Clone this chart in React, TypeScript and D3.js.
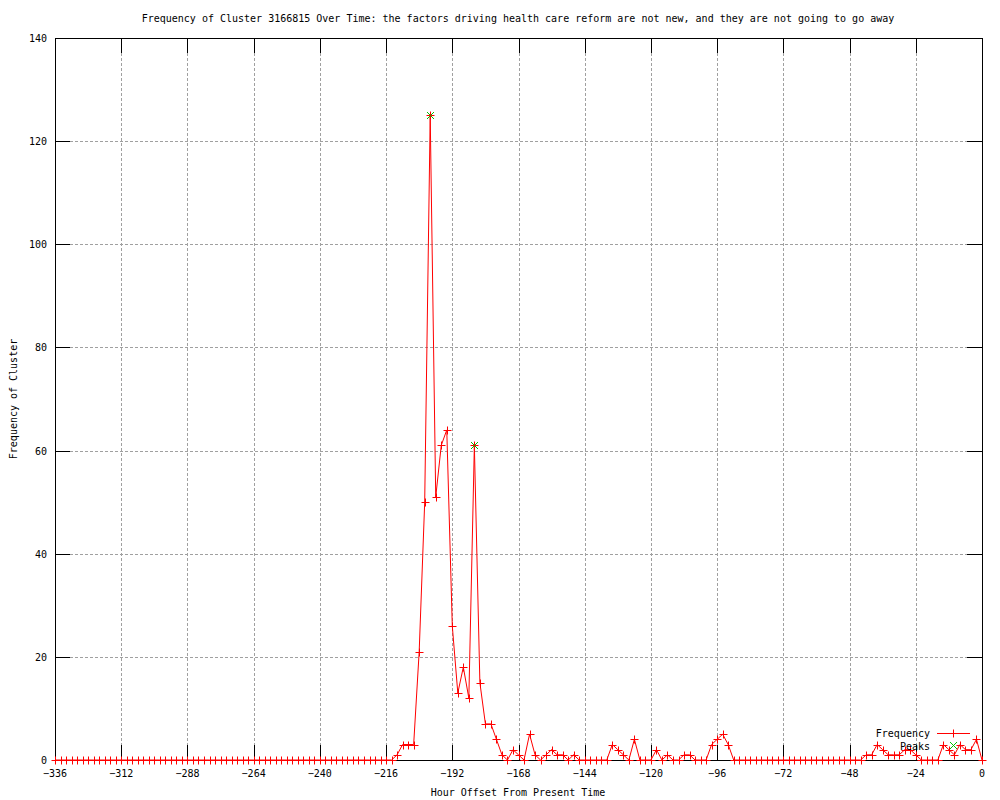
import React, { useEffect, useRef } from 'react';
import * as d3 from 'd3';

const title = 'Frequency of Cluster 3166815 Over Time: the factors driving health care reform are not new, and they are not going to go away';
const xLabel = 'Hour Offset From Present Time';
const yLabel = 'Frequency of Cluster';

// one sample every 2 hours, -336 .. 0
const hours = d3.range(-336, 1, 2);

const frequency = [
    // -336 .. -214
    0, 0, 0, 0, 0, 0, 0, 0, 0, 0, 0, 0, 0, 0, 0, 0, 0, 0, 0, 0, 0, 0, 0, 0, 0, 0, 0, 0, 0, 0, 0,
    0, 0, 0, 0, 0, 0, 0, 0, 0, 0, 0, 0, 0, 0, 0, 0, 0, 0, 0, 0, 0, 0, 0, 0, 0, 0, 0, 0, 0, 0, 0,
    // -212 .. -148
    1, 3, 3, 3, 21, 50, 125, 51, 61, 64, 26, 13, 18, 12, 61, 15, 7, 7, 4, 1, 0, 2, 1, 0, 5, 1, 0, 1, 2, 1, 1, 0, 1,
    // -146 .. -92
    0, 0, 0, 0, 0, 0, 3, 2, 1, 0, 4, 0, 0, 0, 2, 0, 1, 0, 0, 1, 1, 0, 0, 0, 3, 4, 5, 3,
    // -90 .. -44
    0, 0, 0, 0, 0, 0, 0, 0, 0, 0, 0, 0, 0, 0, 0, 0, 0, 0, 0, 0, 0, 0, 0, 0,
    // -42 .. 0
    1, 1, 3, 2, 1, 1, 1, 2, 2, 1, 0, 0, 0, 0, 3, 2, 1, 3, 2, 2, 4, 0
];

const peakHours = [-200, -184];
const peakValues = [125, 61];

const xTicks = [-336, -312, -288, -264, -240, -216, -192, -168, -144, -120, -96, -72, -48, -24, 0];
const yTicks = [0, 20, 40, 60, 80, 100, 120, 140];

const width = 1000;
const height = 800;
const margin = { left: 55, right: 18, top: 38, bottom: 40 };
const font = '"DejaVu Sans Mono", monospace';

export default function App() {
    const svgRef = useRef<SVGSVGElement>(null);

    useEffect(() => {
        const svg = d3.select(svgRef.current);
        svg.selectAll('*').remove();

        const x0 = margin.left, x1 = width - margin.right;
        const y0 = height - margin.bottom, y1 = margin.top;
        const xScale = d3.scaleLinear().domain([-336, 0]).range([x0, x1]);
        const yScale = d3.scaleLinear().domain([0, 140]).range([y0, y1]);
        const px = (v: number) => Math.round(v) + 0.5;

        // grid
        const grid = svg.append('g')
            .attr('stroke', '#a0a0a0')
            .attr('stroke-dasharray', '3,2')
            .attr('shape-rendering', 'crispEdges');
        grid.selectAll('line.gx')
            .data(xTicks.slice(1, -1))
            .enter().append('line')
            .attr('x1', (d) => px(xScale(d))).attr('x2', (d) => px(xScale(d)))
            .attr('y1', y1).attr('y2', y0);
        grid.selectAll('line.gy')
            .data(yTicks.slice(1, -1))
            .enter().append('line')
            .attr('class', 'gy')
            .attr('x1', x0).attr('x2', x1)
            .attr('y1', (d) => px(yScale(d))).attr('y2', (d) => px(yScale(d)));

        // ticks (mirrored, inward)
        const tickLen = 15;
        const ticks = svg.append('g').attr('stroke', 'black').attr('shape-rendering', 'crispEdges');
        xTicks.forEach((d) => {
            const xx = px(xScale(d));
            ticks.append('line').attr('x1', xx).attr('x2', xx).attr('y1', y0).attr('y2', y0 - tickLen);
            ticks.append('line').attr('x1', xx).attr('x2', xx).attr('y1', y1).attr('y2', y1 + tickLen);
        });
        yTicks.forEach((d) => {
            const yy = px(yScale(d));
            ticks.append('line').attr('x1', x0).attr('x2', x0 + tickLen).attr('y1', yy).attr('y2', yy);
            ticks.append('line').attr('x1', x1).attr('x2', x1 - tickLen).attr('y1', yy).attr('y2', yy);
        });

        // border
        svg.append('rect')
            .attr('x', px(x0)).attr('y', px(y1))
            .attr('width', Math.round(x1 - x0)).attr('height', Math.round(y0 - y1))
            .attr('fill', 'none').attr('stroke', 'black')
            .attr('shape-rendering', 'crispEdges');

        // tick labels
        const labels = svg.append('g').attr('font-family', font).attr('font-size', 10).attr('fill', 'black');
        labels.selectAll('text.xt')
            .data(xTicks)
            .enter().append('text')
            .attr('x', (d) => xScale(d))
            .attr('y', y0 + 17)
            .attr('text-anchor', 'middle')
            .text((d) => d.toString().replace('-', '\u2212'));
        labels.selectAll('text.yt')
            .data(yTicks)
            .enter().append('text')
            .attr('class', 'yt')
            .attr('x', x0 - 8)
            .attr('y', (d) => yScale(d) + 4)
            .attr('text-anchor', 'end')
            .text((d) => d);

        // titles
        labels.append('text')
            .attr('x', 518).attr('y', 22)
            .attr('text-anchor', 'middle')
            .text(title);
        labels.append('text')
            .attr('x', 518).attr('y', 796)
            .attr('text-anchor', 'middle')
            .text(xLabel);
        labels.append('text')
            .attr('transform', `translate(17, ${(y0 + y1) / 2}) rotate(-90)`)
            .attr('text-anchor', 'middle')
            .text(yLabel);

        // frequency line
        const line = d3.line<number>()
            .x((_, i) => xScale(hours[i]))
            .y((d) => yScale(d));
        const plot = svg.append('g');
        plot.append('path')
            .datum(frequency)
            .attr('fill', 'none')
            .attr('stroke', '#ff0000')
            .attr('stroke-width', 1)
            .attr('d', line);

        const plus = (g: any, cx: number, cy: number, color: string) => {
            g.append('path')
                .attr('d', `M${cx - 4},${cy}H${cx + 4}M${cx},${cy - 4}V${cy + 4}`)
                .attr('stroke', color).attr('stroke-width', 1).attr('fill', 'none');
        };
        const cross = (g: any, cx: number, cy: number, color: string) => {
            g.append('path')
                .attr('d', `M${cx - 3.5},${cy - 3.5}L${cx + 3.5},${cy + 3.5}M${cx - 3.5},${cy + 3.5}L${cx + 3.5},${cy - 3.5}`)
                .attr('stroke', color).attr('stroke-width', 1).attr('fill', 'none');
        };

        frequency.forEach((v, i) => {
            plus(plot, px(xScale(hours[i])), px(yScale(v)), '#ff0000');
        });

        // peaks
        peakHours.forEach((h, i) => {
            cross(plot, px(xScale(h)), px(yScale(peakValues[i])), '#00c000');
        });

        // legend
        const legend = svg.append('g').attr('font-family', font).attr('font-size', 10);
        legend.append('text').attr('x', 930).attr('y', 737).attr('text-anchor', 'end').attr('fill', 'black').text('Frequency');
        legend.append('text').attr('x', 930).attr('y', 750).attr('text-anchor', 'end').attr('fill', 'black').text('Peaks');
        legend.append('path')
            .attr('d', 'M937,733.5H970')
            .attr('fill', 'none')
            .attr('stroke', '#ff0000')
            .attr('stroke-width', 1);
        plus(legend, 953.5, 733.5, '#ff0000');
        cross(legend, 953.5, 745.5, '#00c000');
    }, []);

    return (
        <div style={{ position: 'absolute', left: 0, top: 0 }}>
            <svg ref={svgRef} width={width} height={height} style={{ display: 'block', background: 'white' }} />
        </div>
    );
}
